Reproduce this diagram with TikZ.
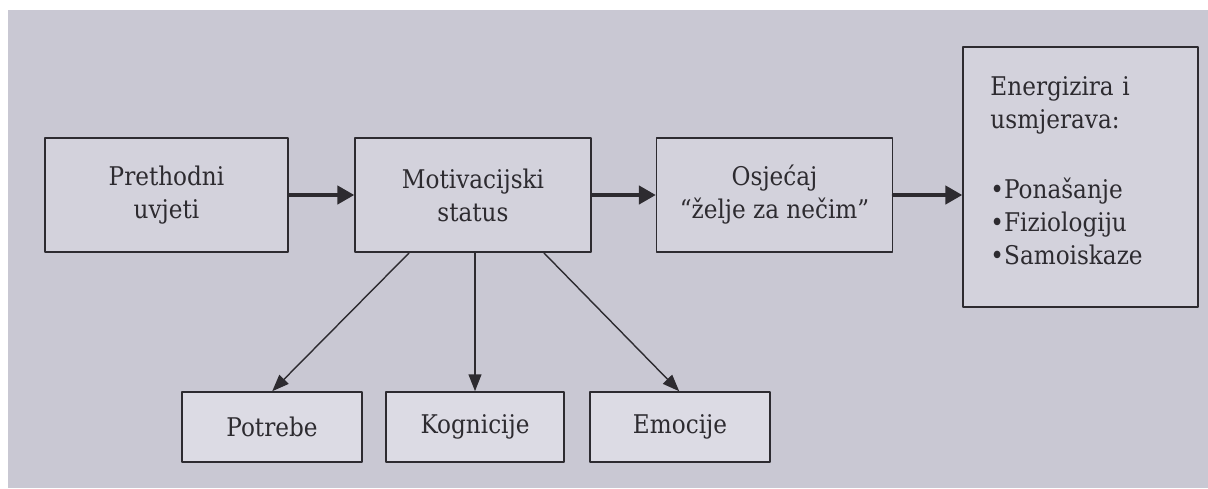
\documentclass[tikz,border=0pt]{standalone}
\usepackage{fontspec}
\setmainfont{DejaVu Serif Condensed}
\usepackage{xcolor}
\usetikzlibrary{arrows}
\usetikzlibrary{arrows.meta,calc}
\definecolor{papir}{RGB}{201,200,211}
\definecolor{kutija}{RGB}{211,210,220}
\definecolor{kutijab}{RGB}{220,219,228}
\definecolor{tinta}{RGB}{45,43,48}

\begin{document}
\begin{tikzpicture}[line cap=round,line join=round,x=0.025cm,y=-0.025cm,
    kutijaG/.style={draw=tinta,line width=1.1pt,fill=kutija,text=tinta,align=center,
        inner sep=0pt,minimum width=5.9cm,minimum height=2.85cm,font=\fontsize{18.3}{23.5}\selectfont},
    kutijaD/.style={kutijaG,fill=kutijab,minimum width=4.45cm,minimum height=1.75cm},
    debela/.style={draw=tinta,line width=2.2pt,-{Triangle[length=0.42cm,width=0.46cm]}},
    tanka/.style={draw=tinta,line width=1pt,-{Triangle[length=0.42cm,width=0.32cm]}}]
                % papir
                \fill [papir] (0,0) rectangle (1208,488);
                \fill [white] (0,0) rectangle (1208,10);
                \fill [white] (0,0) rectangle (8,488);
                \useasboundingbox (0,0) rectangle (1208,488);
                % gornji red
                \node [kutijaG,minimum width=6.075cm] (preth) at (166.5,195) {Prethodni\\uvjeti};
                \node [kutijaG] (motiv) at (473,195) {Motivacijski\\status};
                \node [kutijaG] (osjec) at (774.5,195) {Osjećaj\\“želje za nečim”};
                \node [kutijaG,minimum width=5.875cm,minimum height=6.5cm,text width=4.5cm,align=left] (energ) at (1080.5,177)
                    {Energizira i\\usmjerava:\\[26pt]\textbullet Ponašanje\\\textbullet Fiziologiju\\\textbullet Samoiskaze\\[-14pt]\mbox{}};
                % donji red
                \node [kutijaD,minimum width=4.5cm] (potr) at (272,427) {Potrebe};
                \node [kutijaD] (kogn) at (475,427) {Kognicije};
                \node [kutijaD,minimum width=4.5cm] (emoc) at (680,427) {Emocije};
                % strelice
                \draw [debela] (preth.east) -- (motiv.west);
                \draw [debela] (motiv.east) -- (osjec.west);
                \draw [debela] (osjec.east) -- (osjec.east -| energ.west);
                \draw [tanka] ($(motiv.south west)+(55,0)$) -- ($(potr.north west)+(91,0)$);
                \draw [tanka] (motiv.south -| kogn.north) -- (kogn.north);
                \draw [tanka] ($(motiv.south east)+(-48,0)$) -- ($(emoc.north west)+(90,0)$);
            \end{tikzpicture}
\end{document}
